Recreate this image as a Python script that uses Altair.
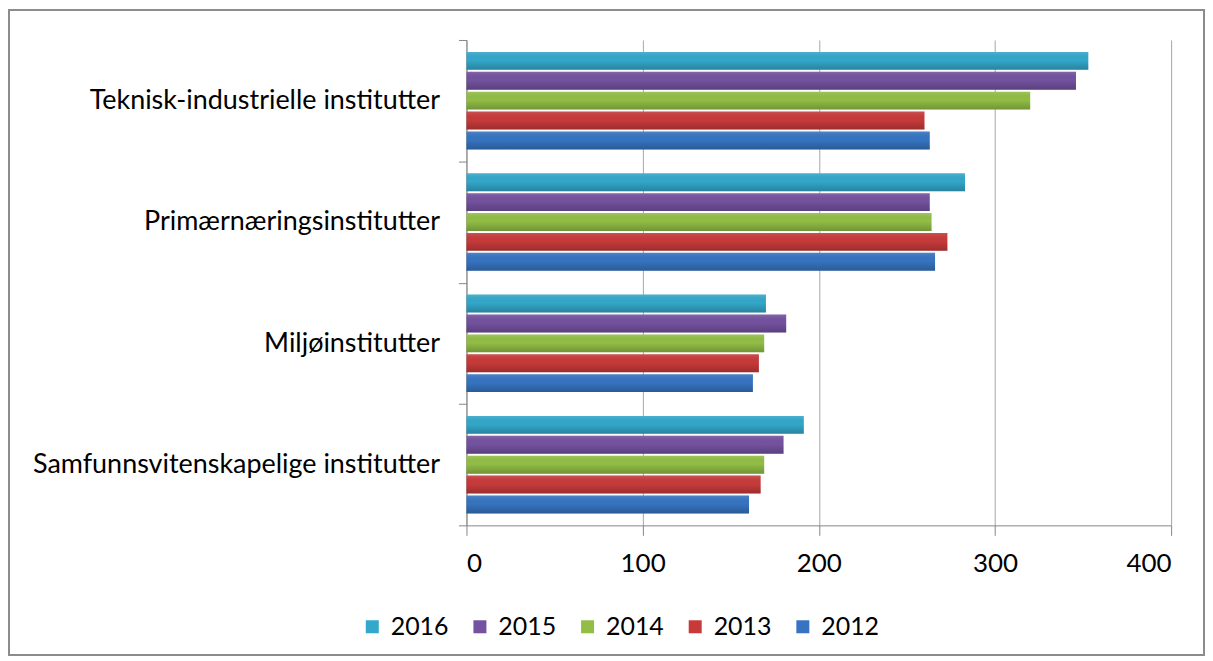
import altair as alt
import pandas as pd

categories = ["Teknisk-industrielle institutter", "Primærnæringsinstitutter",
              "Miljøinstitutter", "Samfunnsvitenskapelige institutter"]
years = ["2016", "2015", "2014", "2013", "2012"]
values = {
    "2016": [353, 283, 170, 191.5],
    "2015": [346, 263, 181.5, 180],
    "2014": [320, 264, 169, 169],
    "2013": [260, 273, 166, 167],
    "2012": [263, 266, 162.6, 160.4],
}
colors = ["#33A8CA", "#7452A0", "#92BE45", "#C83A3A", "#3674C1"]
x_ticks = [0, 100, 200, 300, 400]

rows = []
for y in years:
    for c, v in zip(categories, values[y]):
        rows.append({"category": c, "year": y, "value": v})
df = pd.DataFrame(rows)

FONT = "Lato"
W, H = 707, 487

y_scale = alt.Scale(paddingInner=0, paddingOuter=0)
y_enc = alt.Y("category:N", sort=categories, scale=y_scale,
              axis=alt.Axis(title=None, tickBand="extent", labelFontSize=27,
                            labelFont=FONT, labelColor="#000000",
                            domainColor="#868686", tickColor="#868686",
                            tickSize=8, labelPadding=19, grid=False,
                            labelLimit=600))
x_enc = alt.X("value:Q", scale=alt.Scale(domain=[0, 400], nice=False),
              axis=alt.Axis(title=None, values=x_ticks, labelFontSize=26,
                            labelFont=FONT, labelColor="#000000",
                            domainColor="#868686", tickColor="#868686",
                            gridColor="#A6A6A6", tickSize=10, labelPadding=15,
                            grid=True))
yoff = alt.YOffset("year:N", sort=years,
                   scale=alt.Scale(paddingInner=0.1, paddingOuter=0.6))

bars = alt.Chart(df).mark_bar(cornerRadius=0).encode(
    y=y_enc, x=x_enc, yOffset=yoff,
    color=alt.Color("year:N", sort=years,
                    scale=alt.Scale(domain=years, range=colors),
                    legend=alt.Legend(title=None, orient="none", direction="horizontal",
                                      legendX=-107, legendY=576,
                                      symbolType="square", symbolSize=170,
                                      symbolStrokeWidth=0,
                                      labelFontSize=25, labelFont=FONT,
                                      labelColor="#000000", columnPadding=18,
                                      labelOffset=6)),
)

shade = alt.Chart(df).mark_bar(
    fill=alt.Gradient(gradient="linear",
                      stops=[alt.GradientStop(color="rgba(255,255,255,0.12)", offset=0),
                             alt.GradientStop(color="rgba(0,0,0,0.0)", offset=0.45),
                             alt.GradientStop(color="rgba(0,0,0,0.22)", offset=1)],
                      x1=0, x2=0, y1=0, y2=1)
).encode(y=alt.Y("category:N", sort=categories, scale=y_scale), x="value:Q", yOffset=yoff)

frame = alt.Chart(pd.DataFrame({"f": [0]})).mark_rect(
    fill="transparent", stroke="#8C8C8C", strokeWidth=2
).encode(x=alt.value(-459), x2=alt.value(740), y=alt.value(-30), y2=alt.value(617))

chart = alt.layer(bars, shade, frame).properties(
    width=W, height=H, padding=0, background="#FFFFFF"
).configure_view(stroke=None)

chart.save("out.html", embed_options={"renderer": "svg", "actions": False})
